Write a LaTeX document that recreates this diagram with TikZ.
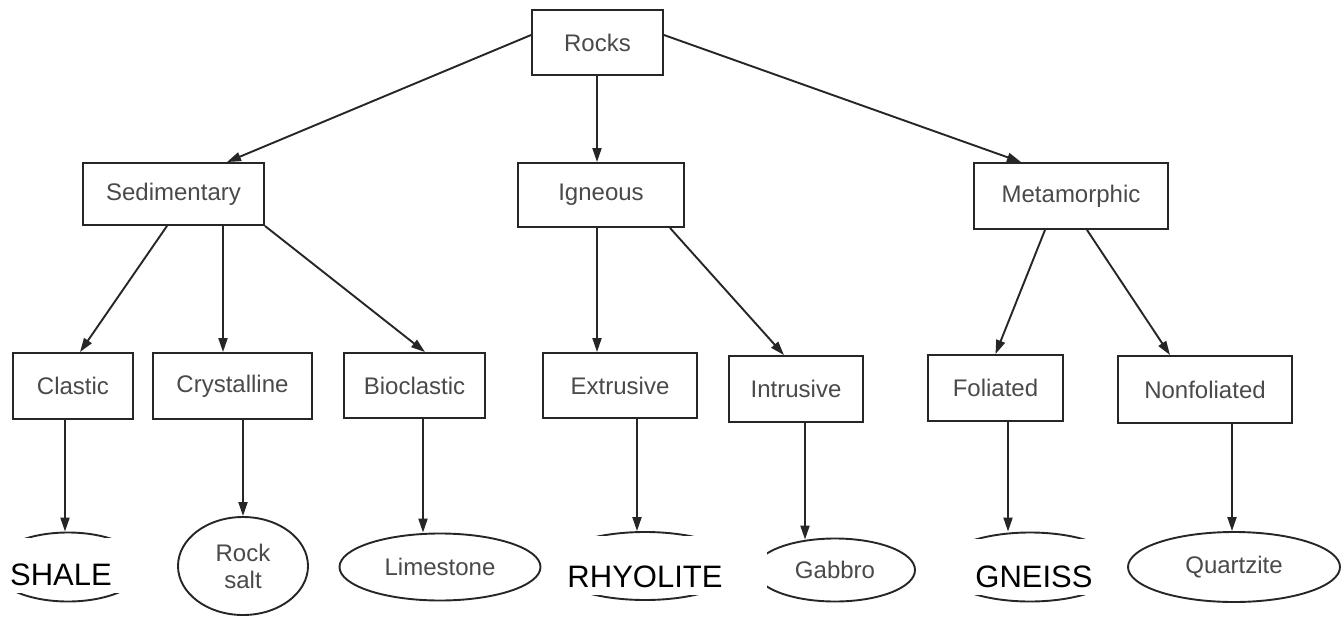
\documentclass[tikz,border=0pt]{standalone}
\usepackage{fontspec}
\setmainfont{Liberation Sans}
\usetikzlibrary{arrows.meta,shapes.geometric,calc}
\definecolor{linec}{HTML}{262626}
\definecolor{txtc}{HTML}{4A4A4A}
\begin{document}
\begin{tikzpicture}[x=1pt,y=-1pt,
  box/.style={draw=linec, line width=1.9pt, inner sep=0pt, text=txtc, font=\fontsize{24}{27}\selectfont},
  oval/.style={ellipse, draw=linec, line width=1.9pt, inner sep=0pt, text=txtc, font=\fontsize{24}{27}\selectfont, align=center},
  arr/.style={draw=linec, line width=1.9pt, -{Triangle[length=14pt,width=9pt]}},
  over/.style={inner sep=0pt, text=black, font=\fontsize{31}{35}\selectfont},
  cover/.style={fill=white}]
\fill[white] (0,0) rectangle (1344,616);
\useasboundingbox (0,0) rectangle (1344,616);

% boxes
\node[box, minimum width=131pt, minimum height=65pt] (rocks) at (597.5,42.5) {Rocks};
\node[box, minimum width=181pt, minimum height=62pt] (sed) at (173.5,194) {Sedimentary};
\node[box, minimum width=166pt, minimum height=64pt] (ign) at (601,195) {Igneous};
\node[box, minimum width=194pt, minimum height=66pt] (met) at (1071,196) {Metamorphic};
\node[box, minimum width=120pt, minimum height=66pt] (clastic) at (73,386) {Clastic};
\node[box, minimum width=159pt, minimum height=66pt] (cryst) at (232.5,386) {Crystalline};
\node[box, minimum width=141pt, minimum height=65pt] (bio) at (414.5,385.5) {Bioclastic};
\node[box, minimum width=154pt, minimum height=65pt] (extr) at (620,385.5) {Extrusive};
\node[box, minimum width=134pt, minimum height=66pt] (intr) at (796,389) {Intrusive};
\node[box, minimum width=135pt, minimum height=66pt] (fol) at (995.5,388) {Foliated};
\node[box, minimum width=174pt, minimum height=67pt] (nonf) at (1205,389.5) {Nonfoliated};

% ovals
\node[oval, minimum width=150pt, minimum height=69pt] (shale) at (68,567) {};
\node[oval, minimum width=130pt, minimum height=98pt] (salt) at (243,566) {Rock\\salt};
\node[oval, minimum width=201pt, minimum height=67pt] (lime) at (440,567) {Limestone};
\node[oval, minimum width=190pt, minimum height=68pt] (rhyo) at (645,566) {};
\node[oval, minimum width=160pt, minimum height=63pt] (gabbro) at (835,570) {Gabbro};
\node[oval, minimum width=180pt, minimum height=69pt] (gneiss) at (1030,567) {};
\node[oval, minimum width=212pt, minimum height=70pt] (quartz) at (1234,567) {Quartzite};

% connector end points
\coordinate (c0) at ([xshift=-0.5pt]rocks.south);
\coordinate (c1) at ([xshift=-8pt]clastic.south);
\coordinate (c2) at ([xshift=8.5pt]bio.south);
\coordinate (c3) at ([xshift=17pt]extr.south);
\coordinate (c4) at ([xshift=9pt]intr.south);
\coordinate (c5) at ([xshift=12.5pt]fol.south);
\coordinate (c6) at ([xshift=27pt]nonf.south);
\coordinate (c7) at ([xshift=-4pt]ign.south);
\coordinate (c8) at ([xshift=49.5pt]sed.south);
\coordinate (c9) at ([xshift=10.5pt]cryst.south);

% level 1
\draw[arr] ([yshift=7.5pt]rocks.west) -- ([xshift=53.5pt]sed.north);
\draw[arr] (c0) -- (c0 |- ign.north);
\draw[arr] ([yshift=7.5pt]rocks.east) -- ([xshift=-50pt]met.north);
% level 2
\draw[arr] ([xshift=-6.5pt]sed.south) -- ([xshift=7pt]clastic.north);
\draw[arr] (c8) -- (c8 |- cryst.north);
\draw[arr] (sed.south east) -- ([xshift=10.5pt]bio.north);
\draw[arr] (c7) -- (c7 |- extr.north);
\draw[arr] ([xshift=69pt]ign.south) -- ([xshift=-12pt]intr.north);
\draw[arr] ([xshift=-26pt]met.south) -- (fol.north);
\draw[arr] ([xshift=16pt]met.south) -- ([xshift=-35pt]nonf.north);
% level 3
\draw[arr] (c1) -- (c1 |- shale.north);
\draw[arr] (c9) -- (c9 |- salt.north);
\draw[arr] (c2) -- (c2 |- lime.north);
\draw[arr] (c3) -- (c3 |- rhyo.north);
\draw[arr] (c4) -- ([yshift=-2pt]c4 |- gabbro.north);
\draw[arr] (c5) -- (c5 |- gneiss.north);
\draw[arr] (c6) -- (c6 |- quartz.north);

% white patches with overlaid labels
\fill[cover] (-2,538) rectangle (160,593);
\fill[cover] (545,536) rectangle (767,595);
\fill[cover] (935,539) rectangle (1125,595);
\node[over] (shaleT) at (61,575) {SHALE};
\node[over] (rhyoT) at (645,577) {RHYOLITE};
\node[over] (gneissT) at (1034,577) {GNEISS};
\end{tikzpicture}
\end{document}
